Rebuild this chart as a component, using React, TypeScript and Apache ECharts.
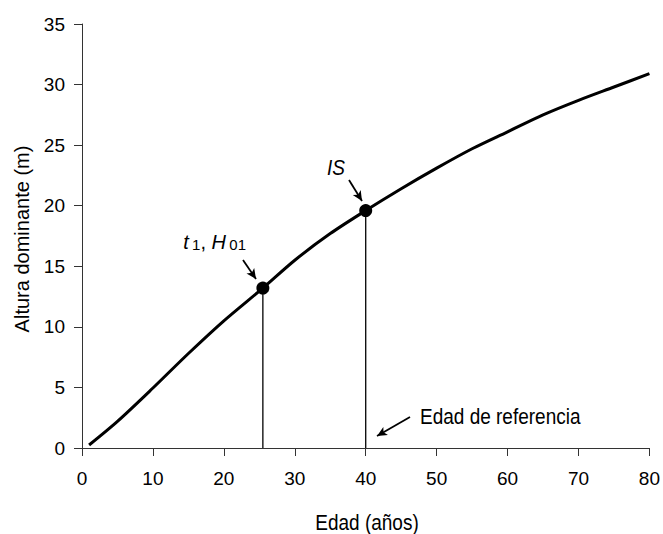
import React, { useEffect, useRef } from "react";
import * as echarts from "echarts";

const ages = [1, 5, 10, 15, 20, 25.5, 30, 35, 40, 45, 50, 55, 60, 65, 70, 75, 80];
const heights = [0.25, 2.2, 4.95, 7.8, 10.5, 13.2, 15.5, 17.7, 19.6, 21.4, 23.1, 24.7, 26.1, 27.5, 28.7, 29.8, 30.9];
const markedAges = [25.5, 40];
const markedHeights = [13.2, 19.6];
const xTitle = "Edad (años)";
const yTitle = "Altura dominante (m)";
const refLabel = "Edad de referencia";

const FONT = "'Liberation Sans Narrow', 'Arial Narrow', 'Liberation Sans', Arial, sans-serif";

export default function App() {
  const ref = useRef<HTMLDivElement>(null);
  useEffect(() => {
    document.body.style.margin = "0";
    if (!ref.current) return;
    const chart = echarts.init(ref.current, undefined, { renderer: "svg" });
    const curve = ages.map((a, i) => [a, heights[i]]);
    const dots = markedAges.map((a, i) => [a, markedHeights[i]]);
    const drops = markedAges.map((a, i) => ({
      type: "line",
      data: [[a, 0], [a, markedHeights[i]]],
      symbol: "none",
      lineStyle: { color: "#000", width: 1.3 },
      z: 1,
    }));
    chart.setOption({
      animation: false,
      textStyle: { fontFamily: FONT },
      grid: { left: 82, right: 11, top: 24, bottom: 86 },
      xAxis: {
        type: "value",
        min: 0,
        max: 80,
        interval: 10,
        splitLine: { show: false },
        axisLine: { lineStyle: { color: "#333", width: 1 } },
        axisTick: { show: true, length: 8, lineStyle: { color: "#333" } },
        axisLabel: { color: "#000", fontSize: 19, margin: 21, fontFamily: FONT },
      },
      yAxis: {
        type: "value",
        min: 0,
        max: 35,
        interval: 5,
        splitLine: { show: false },
        axisLine: { show: true, lineStyle: { color: "#333", width: 1 } },
        axisTick: { show: true, length: 8, lineStyle: { color: "#333" } },
        axisLabel: { color: "#000", fontSize: 19, margin: 17, fontFamily: FONT },
      },
      series: [
        ...drops,
        {
          type: "line",
          data: curve,
          smooth: 0.3,
          symbol: "none",
          lineStyle: { color: "#000", width: 3 },
          z: 2,
          markLine: {
            silent: true,
            symbol: ["none", "arrow"],
            symbolSize: [7, 10],
            label: { show: false },
            lineStyle: { color: "#000", width: 1.8, type: "solid" },
            data: [
              [{ x: 349, y: 180 }, { x: 362, y: 201 }],
              [{ x: 243, y: 260 }, { x: 256, y: 279 }],
              [{ x: 410, y: 417 }, { x: 377, y: 436 }],
            ],
          },
        },
        {
          type: "scatter",
          data: dots,
          symbol: "circle",
          symbolSize: 13,
          itemStyle: { color: "#000", opacity: 1 },
          z: 3,
        },
      ],
      graphic: [
        {
          type: "text",
          x: 367,
          y: 522,
          scaleY: 1.15,
          style: { text: xTitle, font: `19px ${FONT}`, fill: "#000", align: "center", verticalAlign: "middle" },
        },
        {
          type: "text",
          x: 22,
          y: 239,
          rotation: Math.PI / 2,
          style: { text: yTitle, font: `20px ${FONT}`, fill: "#000", align: "center", verticalAlign: "middle" },
        },
        {
          type: "text",
          x: 336,
          y: 167,
          scaleY: 1.15,
          style: { text: "IS", font: `italic 19px ${FONT}`, fill: "#000", align: "center", verticalAlign: "middle" },
        },
        {
          type: "text",
          x: 246,
          y: 252,
          style: {
            text: "{i|t} {s|1}{n|, }{i|H} {s|01}",
            align: "right",
            verticalAlign: "bottom",
            fill: "#000",
            rich: {
              i: { font: `italic 20px ${FONT}`, fill: "#000", verticalAlign: "top" },
              n: { font: `20px ${FONT}`, fill: "#000", verticalAlign: "top" },
              s: { font: `15px ${FONT}`, fill: "#000", verticalAlign: "bottom" },
            },
          },
        },
        {
          type: "text",
          x: 420,
          y: 416,
          scaleY: 1.15,
          style: { text: refLabel, font: `19px ${FONT}`, fill: "#000", align: "left", verticalAlign: "middle" },
        },
      ],
    });
    return () => chart.dispose();
  }, []);
  return <div ref={ref} style={{ width: 663, height: 534 }} />;
}
